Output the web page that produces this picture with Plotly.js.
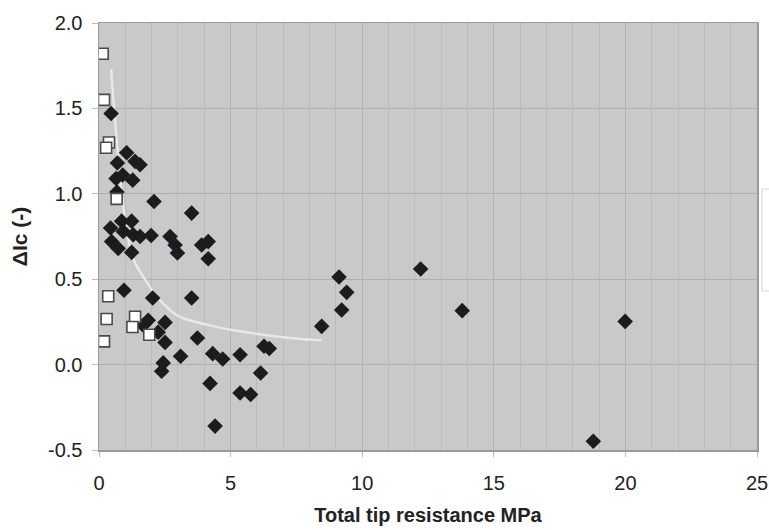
<!DOCTYPE html>
<html>
<head>
<meta charset="utf-8">
<script src="https://cdn.plot.ly/plotly-3.0.1.min.js"></script>
<style>html,body{margin:0;padding:0;background:#fff;}#chart{width:769px;height:530px;}</style>
</head>
<body>
<div id="chart"></div>
<script>
// Filled diamonds (x: total tip resistance MPa, y: ΔIc)
var diamondX = [0.46,1.05,0.70,1.37,1.56,0.65,0.90,1.28,0.68,2.09,3.52,0.44,0.86,1.24,0.92,1.30,1.56,1.98,0.48,0.73,1.24,2.70,2.89,2.98,3.90,4.15,4.15,0.95,2.04,3.52,1.87,1.68,2.51,2.25,2.51,3.74,3.10,4.32,4.70,5.36,6.27,6.47,2.44,2.38,4.22,6.14,5.36,5.76,4.41,9.12,9.41,9.22,8.46,12.22,13.80,19.99,18.78];
var diamondY = [1.47,1.24,1.18,1.19,1.17,1.09,1.11,1.08,1.01,0.955,0.887,0.80,0.84,0.84,0.78,0.76,0.75,0.756,0.72,0.68,0.657,0.75,0.70,0.653,0.70,0.72,0.62,0.435,0.39,0.39,0.26,0.23,0.247,0.19,0.13,0.156,0.049,0.064,0.033,0.058,0.107,0.094,0.01,-0.039,-0.11,-0.049,-0.166,-0.175,-0.36,0.513,0.423,0.32,0.224,0.56,0.316,0.253,-0.449];
// Open squares
var squareX = [0.14,0.19,0.38,0.27,0.67,0.35,0.29,1.37,1.27,0.19,1.91];
var squareY = [1.82,1.55,1.30,1.27,0.97,0.40,0.267,0.28,0.22,0.136,0.175];
// Trend line
var trendX = [0.46,0.67,0.95,1.30,1.68,2.19,2.95,4.09,5.36,7.26,8.46];
var trendY = [1.73,1.32,0.89,0.62,0.516,0.40,0.29,0.234,0.195,0.156,0.142];
var xTicks = [0,5,10,15,20,25];
var yTicks = [-0.5,0.0,0.5,1.0,1.5,2.0];

var traces = [
  {x: trendX, y: trendY, mode: 'lines', type: 'scatter', line: {color: '#e8e8e8', width: 2.5, shape: 'spline'}, hoverinfo: 'skip'},
  {x: diamondX, y: diamondY, mode: 'markers', type: 'scatter', marker: {symbol: 'diamond', size: 12, color: '#1c1c1c'}},
  {x: squareX, y: squareY, mode: 'markers', type: 'scatter', marker: {symbol: 'square', size: 11, color: '#ffffff', line: {color: '#4a4a4a', width: 1.6}}}
];

var layout = {
  width: 769, height: 530,
  margin: {l: 99, r: 12, t: 23, b: 80},
  paper_bgcolor: '#ffffff',
  plot_bgcolor: '#c8c9cb',
  showlegend: false,
  font: {family: 'Liberation Sans, Arial, sans-serif', color: '#222'},
  xaxis: {
    range: [0, 25], tickvals: xTicks, ticktext: xTicks.map(String),
    showgrid: true, gridcolor: '#b2b3b5', gridwidth: 1,
    minor: {dtick: 1, showgrid: true, gridcolor: '#b9babc', gridwidth: 1},
    zeroline: false, showline: true, linecolor: '#9a9a9a', linewidth: 1.5, mirror: true,
    ticks: 'outside', ticklen: 5, tickcolor: '#bbbbbb', ticklabelstandoff: 9,
    tickfont: {size: 20, color: '#222'},
    title: {text: 'Total tip resistance MPa', font: {size: 20, color: '#222', weight: 'bold'}, standoff: 15}
  },
  yaxis: {
    range: [-0.5, 2.0], tickvals: yTicks, ticktext: yTicks.map(function(v){return v.toFixed(1);}),
    showgrid: true, gridcolor: '#aeafb1', gridwidth: 1,
    zeroline: false, showline: true, linecolor: '#9a9a9a', linewidth: 1.5, mirror: true,
    ticks: 'outside', ticklen: 6, tickcolor: '#bbbbbb', ticklabelstandoff: 5,
    tickfont: {size: 20, color: '#222'},
    title: {text: 'ΔIc (-)', font: {size: 21, color: '#222', weight: 'bold'}, standoff: 14}
  },
  shapes: [
    {type: 'rect', xref: 'paper', yref: 'paper', x0: 1.0076, x1: 1.04, y0: (450-291)/427, y1: (450-189)/427,
     fillcolor: '#ffffff', line: {color: '#d6d6d6', width: 1}}
  ]
};

Plotly.newPlot('chart', traces, layout, {displayModeBar: false, staticPlot: true});
</script>
</body>
</html>
